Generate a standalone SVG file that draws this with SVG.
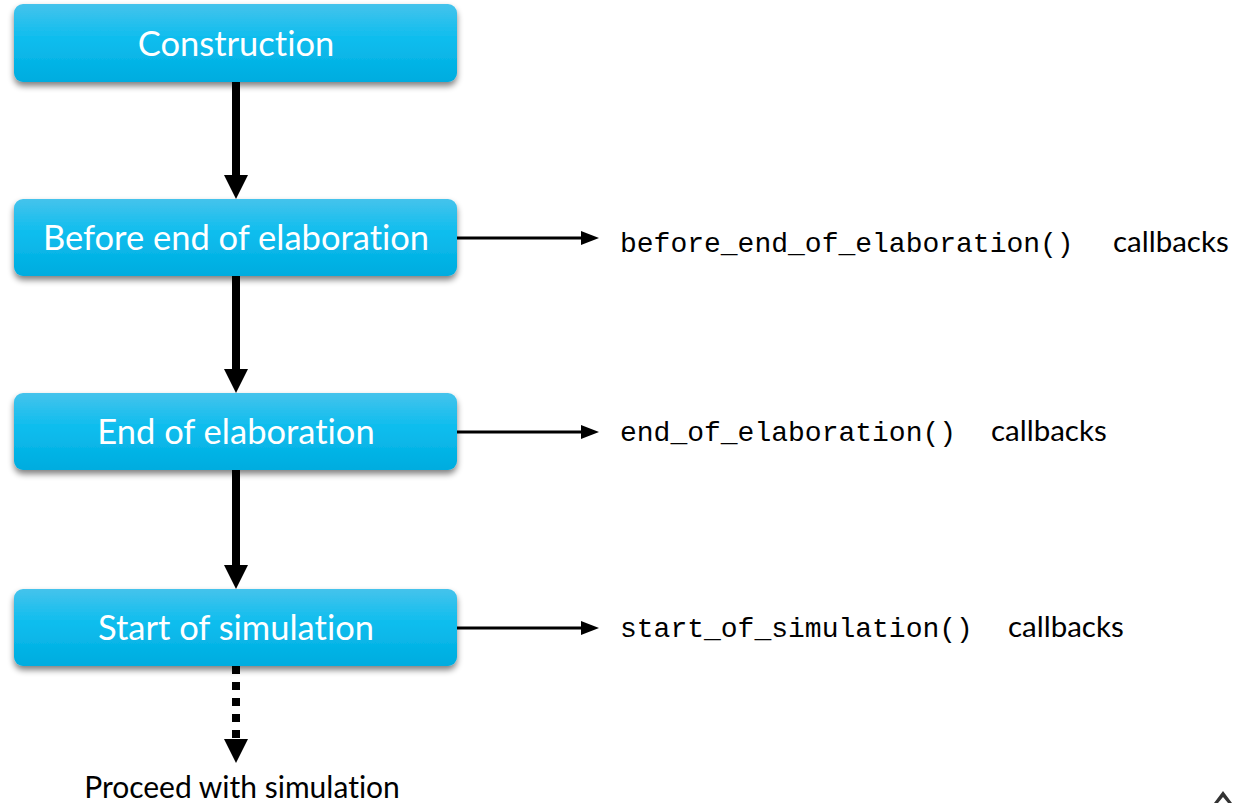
<svg xmlns="http://www.w3.org/2000/svg" width="1241" height="803" viewBox="0 0 1241 803">
<style>
text{font-variant-ligatures:none}
.box{fill:url(#g);filter:url(#sh)}
.bt{font-family:Lato,"Open Sans","Liberation Sans",sans-serif;font-size:34.5px;fill:#fff;text-anchor:middle}
.mono{font-family:"Liberation Mono","DejaVu Sans Mono",monospace;font-size:28px;fill:#000}
.sans{font-family:Lato,"Open Sans","Liberation Sans",sans-serif;font-size:29.5px;fill:#000}
.v{stroke:#000;stroke-width:8;fill:none}
.h{stroke:#000;stroke-width:3;fill:none}
</style>
<defs>
<linearGradient id="g" x1="0" y1="0" x2="0" y2="1">
<stop offset="0" stop-color="#45c3ec"/>
<stop offset="0.45" stop-color="#0cbdee"/>
<stop offset="1" stop-color="#00acdf"/>
</linearGradient>
<filter id="sh" x="-10%" y="-20%" width="120%" height="160%">
<feGaussianBlur in="SourceAlpha" stdDeviation="3"/>
<feOffset dx="0" dy="4"/>
<feComponentTransfer><feFuncA type="linear" slope="0.5"/></feComponentTransfer>
<feMerge><feMergeNode/><feMergeNode in="SourceGraphic"/></feMerge>
</filter>
</defs>
<rect width="1241" height="803" fill="#fff"/>
<g id="connectors">
<line class="v" x1="236" y1="82" x2="236" y2="176"/>
<polygon points="224,175 248,175 236,199"/>
<line class="v" x1="236" y1="276" x2="236" y2="370"/>
<polygon points="224,369 248,369 236,393"/>
<line class="v" x1="236" y1="470" x2="236" y2="566"/>
<polygon points="224,565 248,565 236,589"/>
<line class="v" x1="236" y1="666" x2="236" y2="740" stroke-dasharray="8,8"/>
<polygon points="224,739 248,739 236,763"/>
<line class="h" x1="457" y1="238" x2="584" y2="238"/>
<polygon points="581,231 599,238 581,245"/>
<line class="h" x1="457" y1="432" x2="584" y2="432"/>
<polygon points="581,425 599,432 581,439"/>
<line class="h" x1="457" y1="628" x2="584" y2="628"/>
<polygon points="581,621 599,628 581,635"/>
</g>
<g id="n1"><rect class="box" x="14" y="4" width="443" height="78" rx="9"/><text class="bt" x="236" y="56">Construction</text></g>
<g id="n2"><rect class="box" x="14" y="199" width="443" height="77" rx="9"/><text class="bt" x="236" y="250">Before end of elaboration</text></g>
<g id="n3"><rect class="box" x="14" y="393" width="443" height="77" rx="9"/><text class="bt" x="236" y="444">End of elaboration</text></g>
<g id="n4"><rect class="box" x="14" y="589" width="443" height="77" rx="9"/><text class="bt" x="236" y="640">Start of simulation</text></g>
<g id="l1"><text x="620" y="252"><tspan class="mono">before_end_of_elaboration()</tspan><tspan class="sans" x="1113">callbacks</tspan></text></g>
<g id="l2"><text x="620" y="441"><tspan class="mono">end_of_elaboration()</tspan><tspan class="sans" x="991">callbacks</tspan></text></g>
<g id="l3"><text x="620" y="637"><tspan class="mono">start_of_simulation()</tspan><tspan class="sans" x="1008">callbacks</tspan></text></g>
<g id="end"><text class="sans" x="242" y="798" text-anchor="middle" style="font-size:30px">Proceed with simulation</text></g>
<polygon points="1214,803 1223,791 1232,803 1228,803 1223,797 1218,803" fill="#333"/>
</svg>
